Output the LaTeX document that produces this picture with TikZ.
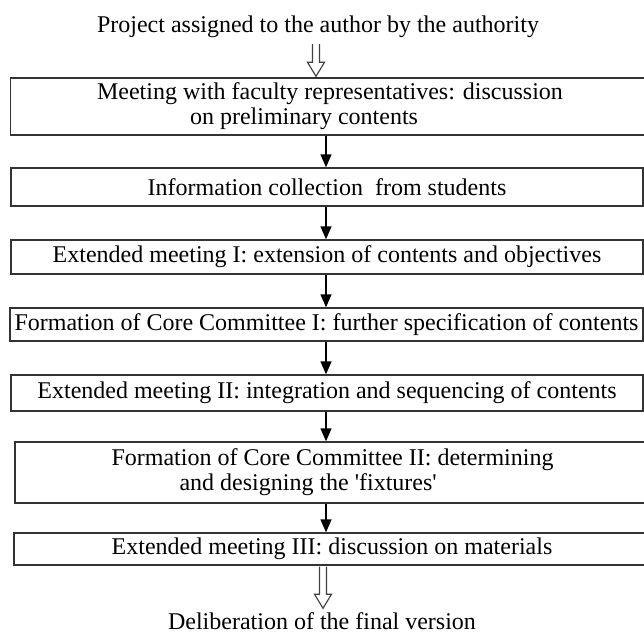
\documentclass[tikz,border=0pt]{standalone}
\usepackage{fontspec}
\setmainfont{Liberation Serif}
\usepackage{tikz}
\usetikzlibrary{arrows.meta,calc}
\def\hollowdown(#1)(#2){\draw[hollow] ($(#1)+(-3.5,0)$) -- ($(#2)+(-3.5,-14)$) -- ($(#2)+(-8.5,-14)$) -- (#2) -- ($(#2)+(8.5,-14)$) -- ($(#2)+(3.5,-14)$) -- ($(#1)+(3.5,0)$);}

\begin{document}
\begin{tikzpicture}[x=1pt, y=-1pt,
		stage/.style={draw=black!80, line width=0.5mm, inner sep=0pt, font=\fontsize{24}{25}\selectfont},
		plain/.style={inner sep=0pt, font=\fontsize{24}{25}\selectfont},
		flow/.style={line width=0.5mm, -{Triangle[width=11pt,length=13pt]}},
		hollow/.style={draw=black!75, line width=0.4mm, line join=miter}]
		%%%%% START %%%%%
		
		\useasboundingbox (0,0) rectangle (644,634);
		\fill[white] (0,0) rectangle (644,634);
		
		\node[plain] (project) at (318, 27) {Project assigned to the author by the authority};
		
		\node[stage, minimum width=639pt, minimum height=57pt, align=left] (faculty) at (330, 106.5) {Meeting with faculty representatives: discussion\\\hspace*{93pt}on preliminary contents};
		\node[stage, minimum width=632pt, minimum height=38pt] (students) at (327, 187) {Information collection \ from students};
		\node[stage, minimum width=632pt, minimum height=34pt] (extI) at (327, 257) {Extended meeting I: extension of contents and objectives};
		\node[stage, minimum width=633pt, minimum height=33pt] (coreI) at (326.5, 324.5) {Formation of Core Committee I: further specification of contents};
		\node[stage, minimum width=632pt, minimum height=36pt] (extII) at (327, 393) {Extended meeting II: integration and sequencing of contents};
		\node[stage, minimum width=635pt, minimum height=61pt, align=left] (coreII) at (332.5, 472.5) {Formation of Core Committee II: determining\\\hspace*{68pt}and designing the \textquotesingle fixtures\textquotesingle};
		\node[stage, minimum width=636pt, minimum height=32pt] (extIII) at (332, 549) {Extended meeting III: discussion on materials};
		
		\node[plain] (final) at (322, 621) {Deliberation of the final version};
		
		\coordinate (top) at (316, 0);
		\coordinate (col) at (326, 0);
		\coordinate (bot) at (323, 0);
		
		\coordinate (h1a) at ([yshift=-6pt]project.south -| top);
		\coordinate (h1b) at ([yshift=1pt]faculty.north -| top);
		\coordinate (h2a) at ([yshift=-1pt]extIII.south -| bot);
		\coordinate (h2b) at ([yshift=4pt]final.north -| bot);
		
		\hollowdown(h1a)(h1b)
		\draw[flow] (faculty.south -| col) -- (students.north -| col);
		\draw[flow] (students.south -| col) -- (extI.north -| col);
		\draw[flow] (extI.south -| col) -- (coreI.north -| col);
		\draw[flow] (coreI.south -| col) -- (extII.north -| col);
		\draw[flow] (extII.south -| col) -- (coreII.north -| col);
		\draw[flow] (coreII.south -| col) -- (extIII.north -| col);
		\hollowdown(h2a)(h2b)
		
		%%%%% END %%%%%
\end{tikzpicture}
\end{document}
